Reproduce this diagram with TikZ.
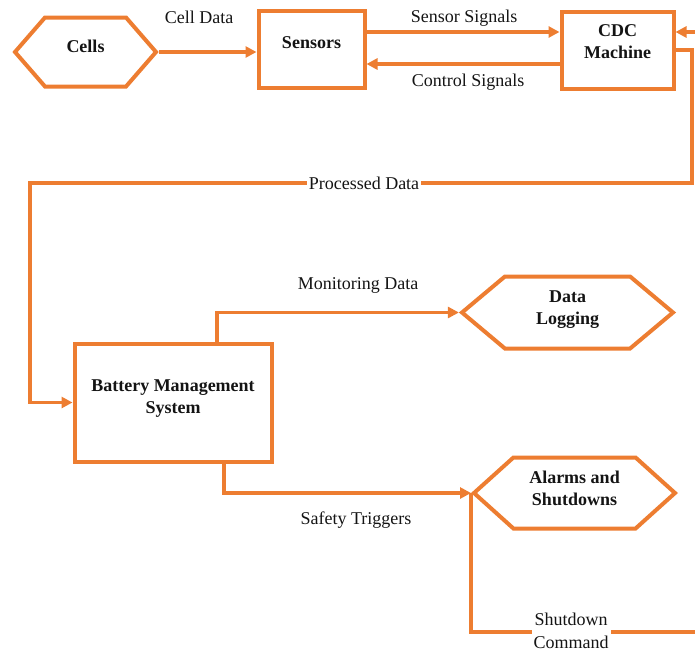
\documentclass[tikz,border=0pt]{standalone}
\usepackage{fontspec}
\setmainfont{Liberation Serif}
\usetikzlibrary{arrows.meta,shapes.symbols}
\definecolor{orng}{HTML}{ED7D31}
\definecolor{ink}{HTML}{141414}
\tikzset{
  box/.style={draw=orng, line width=4pt, align=center, text=ink, font=\fontsize{18}{22.5}\selectfont\bfseries},
  hexa/.style={box, signal, signal from=nowhere, signal to=west and east},
  link/.style={draw=orng, line width=3.2pt},
  arr/.style={link, -{Triangle[length=11pt,width=11pt]}},
  lab/.style={text=ink, font=\fontsize{18}{22.5}\selectfont},
  gap/.style={lab, fill=white, inner sep=2pt, align=center}
}

\begin{document}
\begin{tikzpicture}[x=1pt, y=-1pt]
  \useasboundingbox (0,0) rectangle (695,653);
  \clip (0,0) rectangle (695,653);

  % blocks
  \node[hexa, minimum width=141pt, minimum height=69pt, signal pointer angle=98, text depth=10.5pt] (cells) at (85.5,52) {Cells};
  \node[box, minimum width=106pt, minimum height=77pt, text depth=15pt] (sensors) at (311.5,49.75) {Sensors};
  \node[box, minimum width=112pt, minimum height=77pt, text depth=17pt] (cdc) at (617.5,50) {CDC\\Machine};
  \node[box, minimum width=197pt, minimum height=118pt, text depth=11.5pt] (bms) at (173,402.5) {Battery Management\\System};
  \node[hexa, minimum width=211pt, minimum height=72pt, signal pointer angle=80, text depth=9.5pt] (logging) at (567.5,312.5) {Data\\Logging};
  \node[hexa, minimum width=201pt, minimum height=71pt, signal pointer angle=84, text depth=9.5pt] (alarms) at (574.5,493) {Alarms and\\Shutdowns};

  % helper points
  \coordinate (pdr) at (692,183);
  \coordinate (pdl) at (30,183);
  \coordinate (sdr) at (712,632);

  % connectors
  \draw[arr] (cells.east) -- (cells.east -| sensors.west);
  \draw[arr] (sensors.east |- 0,32) -- (cdc.west |- 0,32);
  \draw[arr] (cdc.west |- 0,64) -- (sensors.east |- 0,64);
  \draw[arr] (cdc.east) -| (pdr) -- (pdl) |- (bms.west);
  \draw[arr] (bms.north -| 217,0) |- (logging.west);
  \draw[arr] (bms.south -| 224,0) |- (alarms.west);
  \draw[arr] (alarms.west) |- (sdr) |- (cdc.east |- 0,32);

  % labels
  \node[lab] (celldata) at (199,17) {Cell Data};
  \node[lab] (sensig) at (464,18) {Sensor Signals};
  \node[lab] (ctrlsig) at (468,82) {Control Signals};
  \node[gap] (procdata) at (364,183) {Processed Data};
  \node[lab] (mondata) at (358,285) {Monitoring Data};
  \node[lab] (safety) at (356,520) {Safety Triggers};
  \node[gap] (shutcmd) at (571,631) {Shutdown\\Command};
\end{tikzpicture}
\end{document}
